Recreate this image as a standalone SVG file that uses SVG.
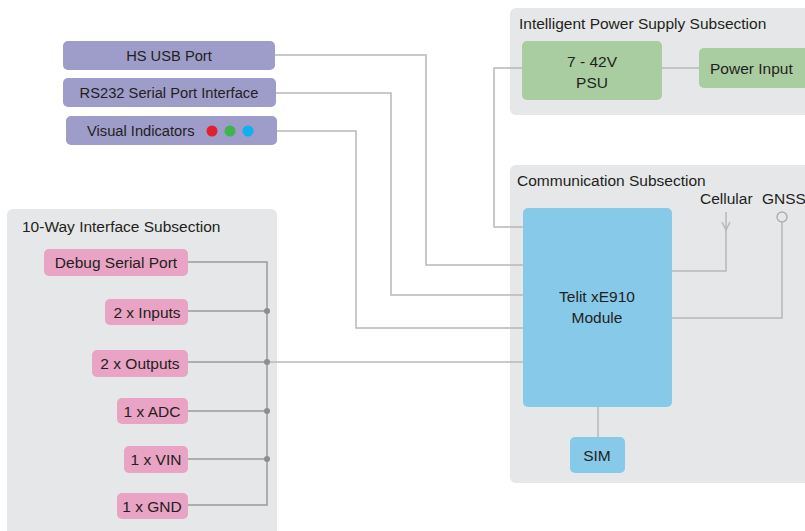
<svg xmlns="http://www.w3.org/2000/svg" width="805" height="531" viewBox="0 0 805 531">
<style>
text{font-family:"Liberation Sans",Arial,sans-serif;font-size:15.5px;fill:#231f20}
.c{text-anchor:middle}
.sm{font-size:14.7px}
.panel{fill:#e6e7e8}
.pur{fill:#9e9cc9}
.pink{fill:#e9a3c4}
.grn{fill:#a9cda0}
.blu{fill:#86c9e9}
.ln{fill:none;stroke:#b8b8b8;stroke-width:1.5}
.bus{fill:none;stroke:#9a9a9a;stroke-width:1.5}
.dot{fill:#8e8e8e}
</style>
<rect width="805" height="531" fill="#ffffff"/>
<g id="power-subsection">
<rect class="panel" x="510" y="8" width="310" height="107" rx="6"/>
<text x="519" y="29">Intelligent Power Supply Subsection</text>
</g>
<g id="comm-subsection">
<rect class="panel" x="510" y="165" width="310" height="318" rx="6"/>
<text x="517" y="186">Communication Subsection</text>
</g>
<g id="io-subsection">
<rect class="panel" x="7" y="209" width="270" height="340" rx="6"/>
<text x="22" y="232">10-Way Interface Subsection</text>
</g>
<g id="connectors">
<path class="ln" d="M275 55H426V265H523"/>
<path class="ln" d="M276 93H391V295H523"/>
<path class="ln" d="M277 131H356V328H523"/>
<path class="ln" d="M522 68H494V227H523"/>
<path class="ln" d="M662 68H699"/>
<path class="ln" d="M672 271H726V212"/>
<path class="ln" d="M722 222L726 230L730 222"/>
<path class="ln" d="M672 318H782V222"/>
<circle cx="782" cy="217" r="5" fill="#e6e7e8" stroke="#b0b0b0" stroke-width="1.5"/>
<path class="ln" d="M598 407V437"/>
<path class="bus" d="M188 262H267V505H188"/>
<path class="bus" d="M188 311H267M188 362H267M188 411H267M188 459H267"/>
<path class="ln" d="M267 362H523"/>
<circle class="dot" cx="267" cy="311" r="3"/>
<circle class="dot" cx="267" cy="362" r="3"/>
<circle class="dot" cx="267" cy="411" r="3"/>
<circle class="dot" cx="267" cy="459" r="3"/>
</g>
<g id="hs-usb">
<rect class="pur" x="63" y="41" width="212" height="29" rx="5"/>
<text class="c sm" x="169" y="60.5">HS USB Port</text>
</g>
<g id="rs232">
<rect class="pur" x="63" y="78" width="213" height="29" rx="5"/>
<text class="c sm" x="169" y="97.5">RS232 Serial Port Interface</text>
</g>
<g id="visual-indicators">
<rect class="pur" x="66" y="116" width="211" height="29" rx="5"/>
<text class="sm" x="87" y="135.5">Visual Indicators</text>
<circle cx="212" cy="131" r="5.5" fill="#e0202a"/>
<circle cx="230" cy="131" r="5.5" fill="#3db54a"/>
<circle cx="248" cy="131" r="5.5" fill="#0db1ef"/>
</g>
<g id="psu">
<rect class="grn" x="522" y="41" width="140" height="59" rx="5"/>
<text class="c" x="592" y="67">7 - 42V</text>
<text class="c" x="592" y="88">PSU</text>
</g>
<g id="power-input">
<rect class="grn" x="699" y="48" width="110" height="40" rx="5"/>
<text x="710" y="74">Power Input</text>
</g>
<g id="telit">
<rect class="blu" x="523" y="208" width="149" height="199" rx="5"/>
<text class="c" x="597" y="302">Telit xE910</text>
<text class="c" x="597" y="323">Module</text>
</g>
<g id="cellular"><text x="700" y="204">Cellular</text></g>
<g id="gnss"><text x="762" y="204" font-size="14.5">GNSS</text></g>
<g id="sim">
<rect class="blu" x="570" y="437" width="55" height="36" rx="5"/>
<text class="c" x="597" y="461">SIM</text>
</g>
<g id="debug">
<rect class="pink" x="44" y="249" width="144" height="27" rx="5"/>
<text class="c" x="116" y="268">Debug Serial Port</text>
</g>
<g id="inputs">
<rect class="pink" x="105" y="299" width="83" height="26" rx="5"/>
<text class="c" x="147" y="318">2 x Inputs</text>
</g>
<g id="outputs">
<rect class="pink" x="92" y="350" width="96" height="27" rx="5"/>
<text class="c" x="140" y="369">2 x Outputs</text>
</g>
<g id="adc">
<rect class="pink" x="117" y="398" width="71" height="26" rx="5"/>
<text class="c" x="152" y="417">1 x ADC</text>
</g>
<g id="vin">
<rect class="pink" x="124" y="446" width="64" height="27" rx="5"/>
<text class="c" x="156" y="465">1 x VIN</text>
</g>
<g id="gnd">
<rect class="pink" x="117" y="493" width="71" height="26" rx="5"/>
<text class="c" x="152" y="512">1 x GND</text>
</g>
</svg>
